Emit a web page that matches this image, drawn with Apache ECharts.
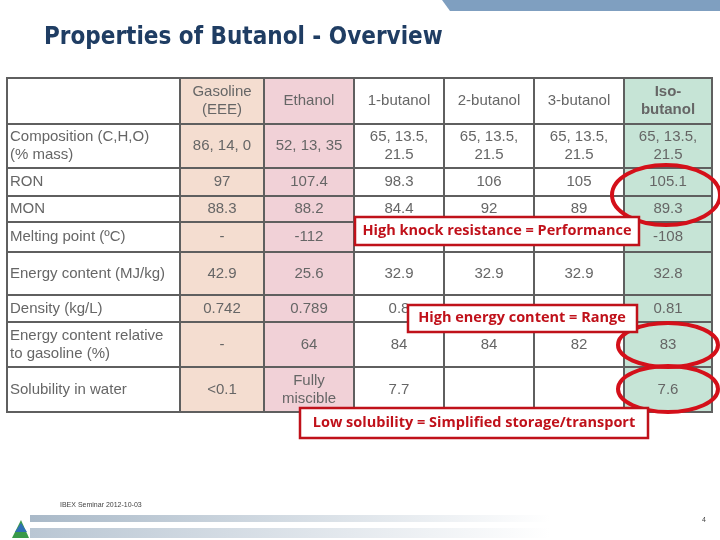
<!DOCTYPE html>
<html>
<head>
<meta charset="utf-8">
<script src="https://cdn.jsdelivr.net/npm/echarts@6/dist/echarts.min.js"></script>
<style>html,body{margin:0;padding:0;background:#fff}#main{width:720px;height:540px}</style>
</head>
<body>
<div id="main"></div>
<script>
// table content
var fuels = ['Gasoline\n(EEE)', 'Ethanol', '1-butanol', '2-butanol', '3-butanol', 'Iso-\nbutanol'];
var properties = ['Composition (C,H,O)\n(% mass)', 'RON', 'MON', 'Melting point (ºC)', 'Energy content (MJ/kg)',
  'Density (kg/L)', 'Energy content relative\nto gasoline (%)', 'Solubility in water'];
var gasoline = ['86, 14, 0', '97', '88.3', '-', '42.9', '0.742', '-', '<0.1'];
var ethanol = ['52, 13, 35', '107.4', '88.2', '-112', '25.6', '0.789', '64', 'Fully\nmiscible'];
var butanol1 = ['65, 13.5,\n21.5', '98.3', '84.4', '', '32.9', '0.8', '84', '7.7'];
var butanol2 = ['65, 13.5,\n21.5', '106', '92', '', '32.9', '', '84', ''];
var butanol3 = ['65, 13.5,\n21.5', '105', '89', '', '32.9', '', '82', ''];
var isobutanol = ['65, 13.5,\n21.5', '105.1', '89.3', '-108', '32.8', '0.81', '83', '7.6'];

// layout (pixel edges of the table grid)
var colEdges = [7, 180, 264, 354, 444, 534, 624, 712];
var rowEdges = [78, 124, 168, 196, 222, 252, 295, 322, 367, 412];
var colFill = ['#ffffff', '#f4ddd0', '#f1d1d7', '#ffffff', '#ffffff', '#ffffff', '#c6e4d6'];

var columns = [properties, gasoline, ethanol, butanol1, butanol2, butanol3, isobutanol];
var cells = [];
cells.push([0, 0, '']);
fuels.forEach(function (f, i) { cells.push([i + 1, 0, f]); });
columns.forEach(function (col, c) {
  col.forEach(function (v, r) { cells.push([c, r + 1, v]); });
});

var chart = echarts.init(document.getElementById('main'));
chart.setOption({
  animation: false,
  grid: { left: 0, right: 0, top: 0, bottom: 0 },
  xAxis: { type: 'value', min: 0, max: 720, show: false },
  yAxis: { type: 'value', min: 0, max: 540, inverse: true, show: false },
  series: [{
    type: 'custom',
    data: cells,
    renderItem: function (params, api) {
      var c = api.value(0), r = api.value(1);
      var p0 = api.coord([colEdges[c], rowEdges[r]]);
      var p1 = api.coord([colEdges[c + 1], rowEdges[r + 1]]);
      var text = cells[params.dataIndex][2];
      var left = c === 0;
      return {
        type: 'group',
        children: [{
          type: 'rect',
          shape: { x: p0[0], y: p0[1], width: p1[0] - p0[0], height: p1[1] - p0[1] },
          style: { fill: colFill[c], stroke: '#5f5f5f', lineWidth: 2 }
        }, {
          type: 'text',
          x: left ? p0[0] + 3 : (p0[0] + p1[0]) / 2,
          y: (p0[1] + p1[1]) / 2,
          style: {
            text: text, align: left ? 'left' : 'center', verticalAlign: 'middle',
            fill: '#666', fontFamily: 'Liberation Sans', fontSize: 15, lineHeight: 18,
            fontWeight: (r === 0 && c === 6) ? 'bold' : 'normal'
          }
        }]
      };
    }
  }],
  graphic: [
    { type: 'polygon', shape: { points: [[442, 0], [720, 0], [720, 11], [450, 11]] }, style: { fill: '#7f9fc0' } },
    { type: 'text', left: 44, top: 26, style: { text: 'Properties of Butanol - Overview', fill: '#1f3d63',
      fontFamily: 'DejaVu Sans Condensed', fontWeight: 'bold', fontSize: 24 } },
    // ellipses
    { type: 'ellipse', shape: { cx: 666, cy: 195, rx: 54, ry: 30 }, style: { fill: 'none', stroke: '#d4101a', lineWidth: 4 }, z: 10 },
    { type: 'ellipse', shape: { cx: 668, cy: 345, rx: 50, ry: 22 }, style: { fill: 'none', stroke: '#d4101a', lineWidth: 4 }, z: 10 },
    { type: 'ellipse', shape: { cx: 668, cy: 389, rx: 50, ry: 23 }, style: { fill: 'none', stroke: '#d4101a', lineWidth: 4 }, z: 10 },
    // callouts
    { type: 'rect', shape: { x: 355, y: 217, width: 284, height: 28 }, style: { fill: '#fff', stroke: '#c0111a', lineWidth: 2.5 }, z: 11 },
    { type: 'text', x: 497, y: 231, style: { text: 'High knock resistance = Performance', align: 'center', verticalAlign: 'middle',
      fill: '#c0111a', fontFamily: 'Open Sans', fontWeight: 'bold', fontSize: 14.5 }, z: 12 },
    { type: 'rect', shape: { x: 408, y: 305, width: 229, height: 27 }, style: { fill: '#fff', stroke: '#c0111a', lineWidth: 2.5 }, z: 11 },
    { type: 'text', x: 522, y: 318, style: { text: 'High energy content = Range', align: 'center', verticalAlign: 'middle',
      fill: '#c0111a', fontFamily: 'Open Sans', fontWeight: 'bold', fontSize: 14.5 }, z: 12 },
    { type: 'rect', shape: { x: 300, y: 408, width: 348, height: 30 }, style: { fill: '#fff', stroke: '#c0111a', lineWidth: 2.5 }, z: 11 },
    { type: 'text', x: 474, y: 423, style: { text: 'Low solubility = Simplified storage/transport', align: 'center', verticalAlign: 'middle',
      fill: '#c0111a', fontFamily: 'Open Sans', fontWeight: 'bold', fontSize: 14.5 }, z: 12 },
    // footer
    { type: 'rect', shape: { x: 30, y: 515, width: 520, height: 7 }, style: { fill: new echarts.graphic.LinearGradient(0, 0, 1, 0, [{ offset: 0, color: '#a9b9c8' }, { offset: 1, color: '#ffffff' }]) } },
    { type: 'rect', shape: { x: 30, y: 528, width: 520, height: 10 }, style: { fill: new echarts.graphic.LinearGradient(0, 0, 1, 0, [{ offset: 0, color: '#b9c6d3' }, { offset: 1, color: '#ffffff' }]) } },
    { type: 'polygon', shape: { points: [[12, 538], [21, 520], [29, 538]] }, style: { fill: '#3a9a4a' } },
    { type: 'polygon', shape: { points: [[15, 532], [21, 523], [27, 532]] }, style: { fill: '#2f6fb5' } },
    { type: 'text', left: 60, top: 502, style: { text: 'IBEX Seminar 2012-10-03', fill: '#444', fontFamily: 'Liberation Sans', fontSize: 7 } },
    { type: 'text', left: 702, top: 517, style: { text: '4', fill: '#444', fontFamily: 'Liberation Sans', fontSize: 7 } }
  ]
});
</script>
</body>
</html>
